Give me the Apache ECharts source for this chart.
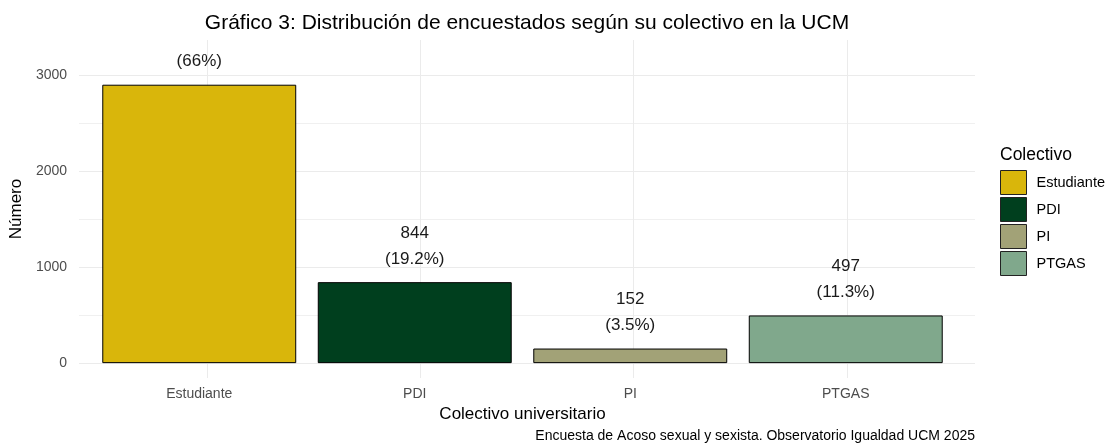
<!DOCTYPE html>
<html>
<head>
<meta charset="utf-8">
<script src="https://cdn.jsdelivr.net/npm/echarts@6/dist/echarts.min.js"></script>
<style>
html,body{margin:0;padding:0;background:#fff;}
#chart{width:1105px;height:445px;}
</style>
</head>
<body>
<div id="chart"></div>
<script>
const categories = ['Estudiante', 'PDI', 'PI', 'PTGAS'];
const counts = [2902, 844, 152, 497];
const pctLabels = ['(66%)', '(19.2%)', '(3.5%)', '(11.3%)'];
const showCount = [false, true, true, true]; // count line of first bar is clipped in the original
const colors = ['#D9B60B', '#003F1E', '#A2A277', '#80A88C'];
const yMajorTicks = [0, 1000, 2000, 3000];
const yMinorTicks = [500, 1500, 2500];
const xCenters = [1, 2, 3, 4];

const Y_MIN = -155, Y_MAX = 3368;
const font = 'Liberation Sans, Arial, sans-serif';

const series = categories.map((c, i) => ({
  name: c,
  type: 'bar',
  xAxisIndex: 1,
  yAxisIndex: 2,
  stack: 'all',
  barCategoryGap: '10%',
  itemStyle: { color: colors[i], borderColor: '#000', borderWidth: 1 },
  label: {
    show: true,
    position: 'top',
    distance: 10,
    fontFamily: font,
    fontSize: 17,
    color: '#1a1a1a',
    lineHeight: 26,
    formatter: () => (showCount[i] ? counts[i] + '\n' : '') + pctLabels[i]
  },
  data: categories.map((_, j) => (j === i ? counts[i] : '-'))
}));

const chart = echarts.init(document.getElementById('chart'));
chart.setOption({
  animation: false,
  backgroundColor: '#fff',
  title: [
    {
      text: 'Gráfico 3: Distribución de encuestados según su colectivo en la UCM',
      left: 522, top: 8, textAlign: 'center',
      textStyle: { fontFamily: font, fontSize: 21, fontWeight: 'normal', color: '#000' }
    },
    {
      text: 'Encuesta de Acoso sexual y sexista. Observatorio Igualdad UCM 2025',
      right: 125, top: 424,
      textStyle: { fontFamily: font, fontSize: 14, fontWeight: 'normal', color: '#000' }
    },
    {
      text: 'Colectivo',
      left: 995, top: 141,
      textStyle: { fontFamily: font, fontSize: 17.5, fontWeight: 'normal', color: '#000' }
    }
  ],
  legend: {
    orient: 'vertical',
    left: 995, top: 165,
    itemWidth: 26, itemHeight: 24, itemGap: 2,
    icon: 'rect',
    data: categories,
    itemStyle: { borderWidth: 1, borderColor: '#222' },
    textStyle: { fontFamily: font, fontSize: 14.5, color: '#000', padding: [0, 0, 0, 5] }
  },
  grid: [
    { left: 70, right: 130, top: 40, bottom: 67 },
    { left: 91.5, right: 151.5, top: 40, bottom: 67 }
  ],
  xAxis: [
    {
      type: 'value', gridIndex: 0, min: 0.4, max: 4.6,
      axisLine: { show: false },
      axisTick: { show: false, customValues: xCenters },
      axisLabel: { show: false, customValues: xCenters },
      splitLine: { show: true, lineStyle: { color: '#EBEBEB', width: 1 } }
    },
    {
      type: 'category', gridIndex: 1, data: categories,
      axisLine: { show: false },
      axisTick: { show: false },
      axisLabel: { fontFamily: font, fontSize: 14, color: '#4D4D4D', margin: 9 },
      splitLine: { show: false },
      name: 'Colectivo universitario',
      nameLocation: 'middle',
      nameGap: 26,
      nameTextStyle: { fontFamily: font, fontSize: 17, color: '#000' }
    }
  ],
  yAxis: [
    {
      type: 'value', gridIndex: 0, min: Y_MIN, max: Y_MAX,
      axisLine: { show: false },
      axisTick: { show: false, customValues: yMajorTicks },
      axisLabel: { customValues: yMajorTicks, formatter: (v) => String(v), fontFamily: font, fontSize: 14, color: '#4D4D4D', margin: 12 },
      splitLine: { show: true, lineStyle: { color: '#EBEBEB', width: 1 } },
      name: 'Número',
      nameLocation: 'middle',
      nameGap: 45,
      nameTextStyle: { fontFamily: font, fontSize: 17, color: '#000' }
    },
    {
      type: 'value', gridIndex: 0, min: Y_MIN, max: Y_MAX,
      axisLine: { show: false },
      axisTick: { show: false, customValues: yMinorTicks },
      axisLabel: { show: false, customValues: yMinorTicks },
      splitLine: { show: true, lineStyle: { color: '#F0F0F0', width: 1 } }
    },
    {
      type: 'value', gridIndex: 1, min: Y_MIN, max: Y_MAX,
      show: false,
      splitLine: { show: false }
    }
  ],
  series: series
});
</script>
</body>
</html>
